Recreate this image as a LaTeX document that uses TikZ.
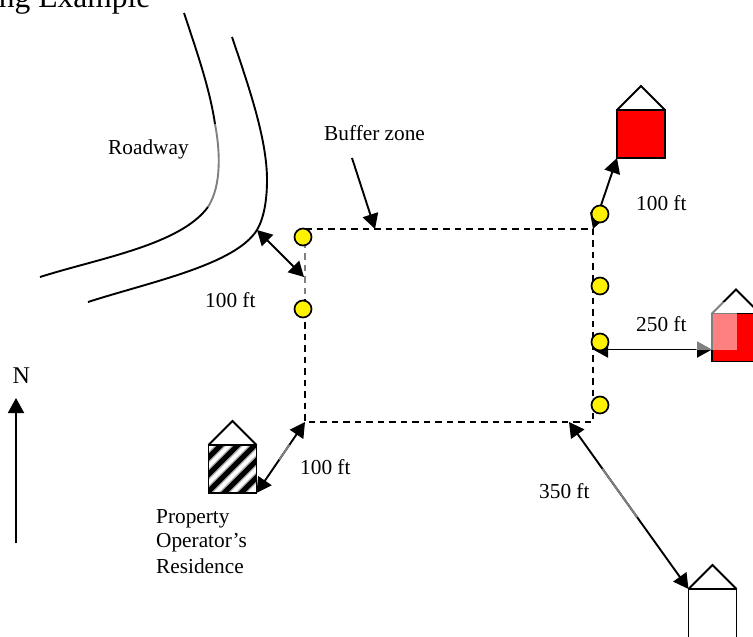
\documentclass[tikz,border=0pt]{standalone}
\usepackage{fontspec}
\setmainfont{Liberation Serif}
\usetikzlibrary{arrows.meta,calc}
\tikzset{
  lbl/.style={anchor=base west,inner sep=0pt,font=\fontsize{21.3}{21}\selectfont},
  house/.style={draw=black,line width=1.9pt,minimum width=48pt,minimum height=48pt,inner sep=0pt,outer sep=0pt},
  roof/.style={line width=1.8pt,line join=miter},
  road/.style={line width=1.9pt},
  measure/.style={line width=1.9pt,{Triangle[length=15pt,width=16pt]}-{Triangle[length=15pt,width=16pt]}},
  pointer/.style={line width=1.9pt,-{Triangle[length=15pt,width=16pt]}},
  buffer/.style={line width=1.8pt,dash pattern=on 6.5pt off 5pt},
  well/.style={circle,draw=black,fill=yellow,line width=1.7pt,minimum size=17pt,inner sep=0pt},
  fade/.style={line width=1.9pt,gray}
}
\begin{document}
\begin{tikzpicture}[x=1pt,y=-1pt]
\useasboundingbox (0,0) rectangle (753,637);
\clip (0,0) rectangle (753,637);
\fill[white] (0,0) rectangle (753,637);
% title
\node[anchor=base west,inner sep=0pt,font=\fontsize{31.5}{32}\selectfont] (title) at (-10,7.5) {ing Example};
% roadway
\draw[road] (184,13) .. controls (198,55) and (210,90) .. (215,124);
\draw[road,gray] (215,124) .. controls (220,150) and (222,185) .. (208,207);
\draw[road] (208,207) .. controls (180,245) and (100,258) .. (40,277);
\draw[road] (232,37) .. controls (250,90) and (267,140) .. (267,180)
  .. controls (267,200) and (264,218) .. (257,230)
  .. controls (235,265) and (150,282) .. (88,302);
\coordinate (roadpt) at (257,230);
% buffer zone
\coordinate (bnw) at (305,229);
\coordinate (bne) at (593,229);
\coordinate (bse) at (593,422);
\coordinate (bsw) at (305,422);
\draw[buffer] (bnw) -- (bne) -- (bse) -- (bsw) -- cycle;
\fill[white,opacity=.5] (301,245) rectangle (309,296);
% houses
\node[house,fill=red] (h1) at (641,134) {};
\draw[roof] (h1.north west) -- ++(24,-24) -- (h1.north east);
\node[house,fill=red] (h2) at (736,337.5) {};
\draw[roof] (h2.north west) -- ++(24,-24) -- (h2.north east);
\node[house] (h3) at (232.5,469) {};
\draw[roof] (h3.north west) -- ++(24,-24) -- (h3.north east);
\begin{scope}
  \clip (h3.south west) rectangle (h3.north east);
  \foreach \c in {666,683,700,717,734}{
    \draw[line width=8pt,gray!60] (\c-440,440) -- (\c-500,500);
    \draw[line width=5pt,black] (\c-440,440) -- (\c-500,500);
  }
\end{scope}
\draw[line width=1.9pt] (h3.south west) rectangle (h3.north east);
\node[house,minimum height=60pt] (h4) at (712.5,619) {};
\draw[roof] (h4.north west) -- ++(24,-24) -- (h4.north east);
% measuring arrows
\coordinate (ltarget) at (304,277);
\coordinate (rstart) at (593,349.5);
\coordinate (rend) at (712,349.5);
\coordinate (bstart) at (569,422);
\draw[measure] (roadpt) -- (ltarget);
\draw[measure] (bne) -- (h1.south west);
\draw[measure] (rstart) -- (rend);
\draw[measure] (bstart) -- (h4.north west);
\draw[measure] (bsw) -- (h3.south east);
\draw[fade] ($(bstart)!0.28!(h4.north west)$) -- ($(bstart)!0.57!(h4.north west)$);
\draw[fade] ($(bsw)!0.32!(h3.south east)$) -- ($(bsw)!0.53!(h3.south east)$);
% faded patch on the east house
\fill[white,opacity=.5] (696,302) rectangle (737,350);
% buffer zone pointer
\coordinate (bufftail) at (352,158);
\coordinate (bufftip) at (375,229);
\draw[pointer] (bufftail) -- (bufftip);
% wells
\node[well] (w1) at (303,237) {};
\node[well] (w2) at (303,309) {};
\node[well] (w3) at (600,214) {};
\node[well] (w4) at (600,286) {};
\node[well] (w5) at (600,342) {};
\node[well] (w6) at (600,405) {};
% north arrow
\coordinate (ntail) at (16,543);
\coordinate (nhead) at (16,398);
\draw[pointer] (ntail) -- (nhead);
\node[anchor=base west,inner sep=0pt,font=\fontsize{24}{24}\selectfont] (n) at (12.5,383) {N};
% labels
\node[lbl] (t1) at (108,154) {Roadway};
\node[lbl] (t2) at (324,140) {Buffer zone};
\node[lbl] (t3) at (636,210) {100 ft};
\node[lbl] (t4) at (205,307) {100 ft};
\node[lbl] (t5) at (636,331) {250 ft};
\node[lbl] (t6) at (300,474) {100 ft};
\node[lbl] (t7) at (539,498) {350 ft};
\node[lbl] (t8) at (156,523) {Property};
\node[lbl] (t9) at (156,547) {Operator’s};
\node[lbl] (t10) at (156,573) {Residence};
\end{tikzpicture}
\end{document}
